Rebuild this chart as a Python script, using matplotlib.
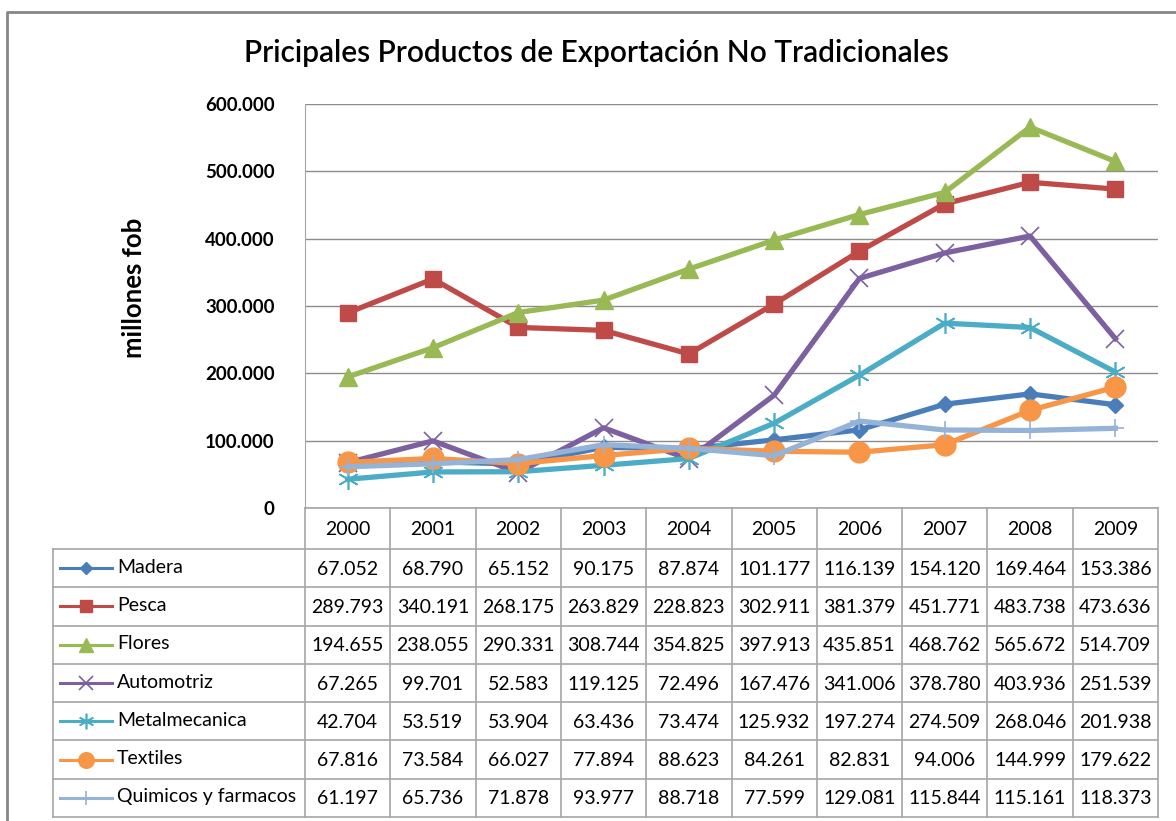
import numpy as np
import matplotlib
matplotlib.use("Agg")
from matplotlib import pyplot as plt
from matplotlib.lines import Line2D

plt.rcParams['font.family'] = ['Lato', 'DejaVu Sans']

years = ["2000", "2001", "2002", "2003", "2004", "2005", "2006", "2007", "2008", "2009"]

madera = [67052, 68790, 65152, 90175, 87874, 101177, 116139, 154120, 169464, 153386]
pesca = [289793, 340191, 268175, 263829, 228823, 302911, 381379, 451771, 483738, 473636]
flores = [194655, 238055, 290331, 308744, 354825, 397913, 435851, 468762, 565672, 514709]
automotriz = [67265, 99701, 52583, 119125, 72496, 167476, 341006, 378780, 403936, 251539]
metalmecanica = [42704, 53519, 53904, 63436, 73474, 125932, 197274, 274509, 268046, 201938]
textiles = [67816, 73584, 66027, 77894, 88623, 84261, 82831, 94006, 144999, 179622]
quimicos = [61197, 65736, 71878, 93977, 88718, 77599, 129081, 115844, 115161, 118373]

names = ["Madera", "Pesca", "Flores", "Automotriz", "Metalmecanica", "Textiles",
         "Quimicos y farmacos"]
series = [madera, pesca, flores, automotriz, metalmecanica, textiles, quimicos]

# estilo de cada serie: color, marcador, tamaño
estilos = [
    ("#4A7EBB", "D", 8, 0),
    ("#BE4B48", "s", 12, 0),
    ("#98B954", "^", 13, 0),
    ("#7D60A0", "x", 13, 1.2),
    ("#4BACC6", (6, 2, 0), 15, 1.2),
    ("#F79646", "o", 15, 0),
    ("#95B3D7", "+", 13, 1.2),
]


def fmt(v):
    return "{:,.0f}".format(v).replace(",", ".")


W, H = 1176, 821
fig = plt.figure(figsize=(W / 100, H / 100), dpi=100)

# ejes en pixeles para la tabla y el marco
bg = fig.add_axes([0, 0, 1, 1], zorder=0)
bg.set_xlim(0, W)
bg.set_ylim(H, 0)
bg.axis("off")

x0, x1 = 305, 1158
y_top, y_zero = 104, 508
y_head = 549
row_h = (817 - y_head) / 7
col_w = (x1 - x0) / 10
tcol = "#A6A6A6"

ax = fig.add_axes([x0 / W, 1 - y_zero / H, (x1 - x0) / W, (y_zero - y_top) / H], zorder=2)
ax.patch.set_alpha(0)

for vals, (c, m, ms, mew) in zip(series, estilos):
    ax.plot(range(len(years)), vals, color=c, lw=3.8, marker=m, ms=ms,
            mec=c, mfc=c, mew=mew if mew else 1, solid_joinstyle="round")

ax.set_xlim(-0.5, 9.5)
ax.set_ylim(0, 600000)
ax.set_yticks(np.arange(0, 600001, 100000))
ax.set_yticklabels(["0"] + [fmt(v) for v in np.arange(100000, 600001, 100000)],
                   fontsize=13.5, fontweight="bold")
ax.tick_params(axis="y", length=0, pad=22)
ax.set_xticks([])
ax.grid(axis="y", color="#8C8C8C", lw=1)
ax.set_axisbelow(True)
for s in ["top", "right", "bottom"]:
    ax.spines[s].set_visible(False)
ax.spines["left"].set_color(tcol)

bg.text(134, 288, "millones fob", rotation=90, ha="center", va="center",
        fontsize=18.5, fontweight="bold")

fig.text(596 / W, 1 - 53 / H, "Pricipales Productos de Exportación No Tradicionales",
         ha="center", va="center", fontsize=21.5, fontweight="semibold")

# marco exterior
bg.plot([7, 7, W + 5], [H + 5, 12, 12], color="#868686", lw=2)

# tabla de datos
y_bot = y_head + 7 * row_h
for i in range(11):
    xx = x0 + i * col_w
    bg.plot([xx, xx], [y_zero, y_bot], color=tcol, lw=1.2)
bg.plot([x0, x1], [y_zero, y_zero], color=tcol, lw=1.2)
bg.plot([53, 53], [y_head, y_bot], color=tcol, lw=1.2)
for k in range(8):
    yy = y_head + k * row_h
    bg.plot([53, x1], [yy, yy], color=tcol, lw=1.2)

for i, yr in enumerate(years):
    bg.text(x0 + (i + 0.5) * col_w, (y_zero + y_head) / 2 + 1, yr,
            ha="center", va="center", fontsize=14)

for r, (nm, vals, (c, m, ms, mew)) in enumerate(zip(names, series, estilos)):
    yc = y_head + (r + 0.5) * row_h
    bg.add_line(Line2D([60, 112], [yc, yc], color=c, lw=2.2))
    bg.plot([86], [yc], marker=m, color=c, ms=ms * 0.75, mec=c,
            mew=mew if mew else 1)
    bg.text(117, yc - 1, nm, ha="left", va="center", fontsize=14)
    for i, v in enumerate(vals):
        bg.text(x0 + (i + 0.5) * col_w, yc + 1, fmt(v), ha="center",
                va="center", fontsize=14)

fig.savefig("out.png", dpi=100)
